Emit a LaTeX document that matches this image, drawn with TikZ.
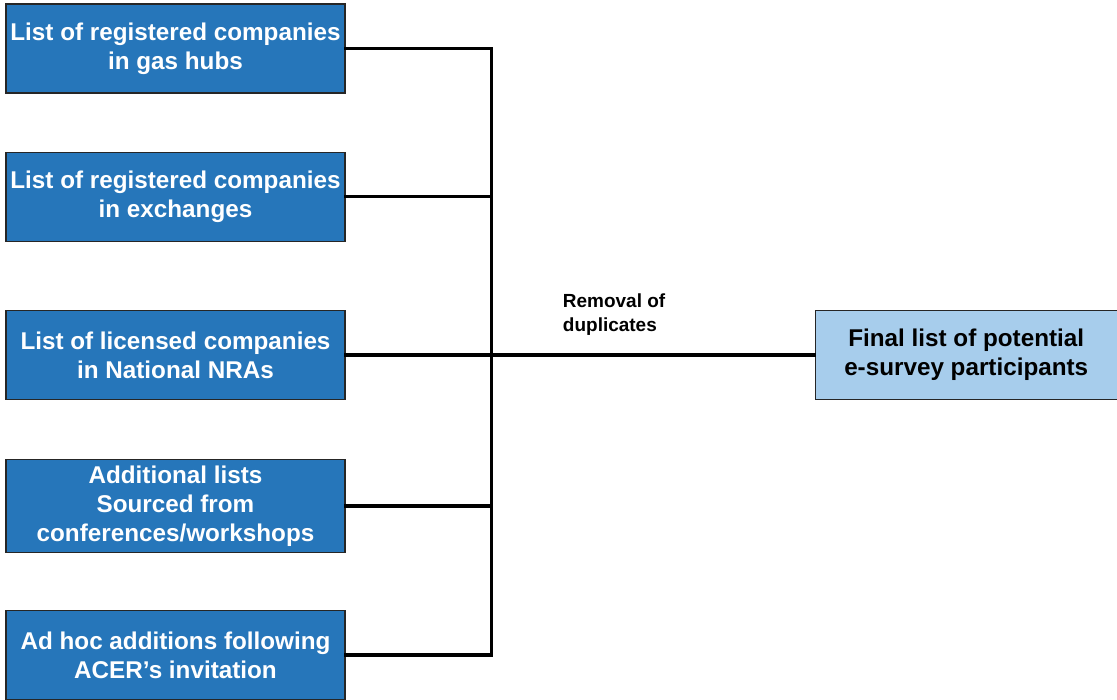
\documentclass[tikz,border=0pt]{standalone}
\usepackage{fontspec}
\setmainfont{Liberation Sans}
\usetikzlibrary{positioning}
\definecolor{listblue}{HTML}{2676BA}
\definecolor{finalblue}{HTML}{A7CDEC}

\begin{document}
\begin{tikzpicture}[
    node distance=1.18cm,
    listbox/.style={rectangle, draw=black!85, line width=0.7pt, fill=listblue, text=white, inner xsep=2pt, minimum width=6.78cm, minimum height=1.78cm, align=center, font=\fontsize{13.8}{16.6}\selectfont\bfseries},
    finalbox/.style={rectangle, draw=black!85, line width=0.7pt, fill=finalblue, text=black, inner xsep=2pt, minimum width=6.04cm, minimum height=1.78cm, align=center, font=\fontsize{13.8}{16.6}\selectfont\bfseries},
    note/.style={inner sep=0pt, align=left, font=\fontsize{10.8}{13.5}\selectfont\bfseries},
    link/.style={line width=2pt, line cap=rect}
  ]
    \useasboundingbox (0,0) rectangle (22.34,-14);

    % Source lists
    \node[listbox] (gas) at (3.51,-0.97) {List of registered companies\\in gas hubs};
    \node[listbox, below=1.16cm of gas] (exch) {List of registered companies\\in exchanges};
    \node[listbox, below=1.36cm of exch] (nra) {List of licensed companies\\in National NRAs};
    \node[listbox, below=1.18cm of nra] (conf) {Additional lists\\Sourced from\\conferences/workshops};
    \node[listbox, below=1.14cm of conf] (acer) {Ad hoc additions following\\ACER's invitation};

    % Final list
    \node[finalbox, right=9.38cm of nra] (final) {Final list of potential\\e-survey participants};

    % Bus
    \coordinate[right=2.92cm of nra.east] (bus);
    \node[note, above right=0.38cm and 1.42cm of bus] (dup) {Removal of\\duplicates};

    % Lines
    \draw[link] (gas.east) -- (gas.east -| bus) -- (acer.east -| bus) -- (acer.east);
    \draw[link] (exch.east) -- (exch.east -| bus);
    \draw[link] (conf.east) -- (conf.east -| bus);
    \draw[link] (nra.east) -- (final.west);
  \end{tikzpicture}
\end{document}
